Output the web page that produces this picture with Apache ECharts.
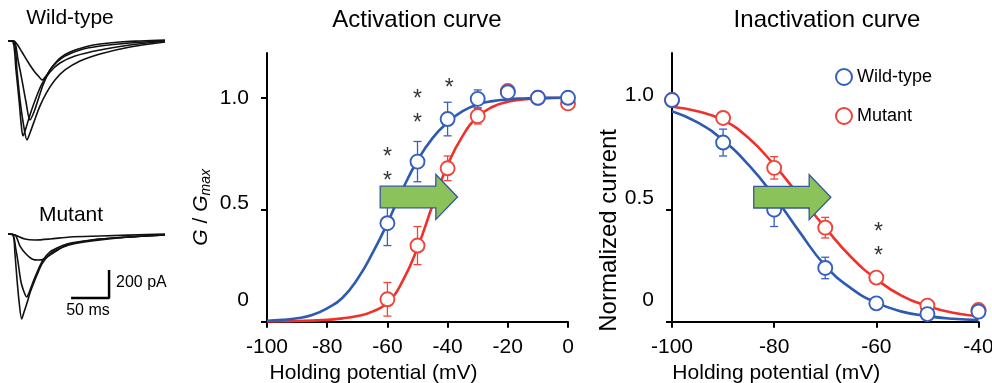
<!DOCTYPE html>
<html>
<head>
<meta charset="utf-8">
<script src="https://cdn.jsdelivr.net/npm/echarts@6.0.0/dist/echarts.min.js"></script>
<style>
  html, body { margin: 0; background: #fff; }
  #chart { width: 992px; height: 383px; }
</style>
</head>
<body>
<div id="chart"></div>
<script>
// ---- data ----
// activation: measured points (mV, G/Gmax) and s.e.m.
const actX = [-60, -50, -40, -30, -20, -10, 0]
const actWt = [0.44, 0.715, 0.905, 0.995, 1.025, 1.0, 1.0]
const actWtErr = [0.1, 0.09, 0.075, 0.04, 0, 0, 0]
const actMut = [0.10, 0.34, 0.685, 0.918, 1.03, 1.0, 0.975]
const actMutErr = [0.075, 0.085, 0.055, 0.035, 0, 0, 0]
// activation: fitted curves, read every 5 mV
const actFitX = [-100, -95, -90, -85, -80, -75, -70, -65, -60, -55, -50, -45, -40, -35, -30, -25, -20, -15, -10, -5, 0]
const actWtFit = [0.004, 0.008, 0.015, 0.03, 0.06, 0.106, 0.19, 0.305, 0.44, 0.59, 0.72, 0.82, 0.89, 0.94, 0.97, 0.985, 0.993, 0.997, 0.999, 1.0, 1.0]
const actMutFit = [0.001, 0.002, 0.003, 0.005, 0.008, 0.015, 0.025, 0.045, 0.085, 0.18, 0.33, 0.52, 0.70, 0.83, 0.915, 0.96, 0.982, 0.992, 0.997, 0.999, 1.0]
// inactivation
const inaX = [-100, -90, -80, -70, -60, -50, -40]
const inaWt = [0.99, 0.80, 0.50, 0.24, 0.082, 0.034, 0.045]
const inaWtErr = [0, 0.06, 0.075, 0.048, 0, 0, 0]
const inaMut = [0.99, 0.91, 0.687, 0.42, 0.197, 0.072, 0.052]
const inaMutErr = [0, 0, 0.05, 0.046, 0, 0, 0]
const inaFitX = [-100, -95, -90, -85, -80, -75, -70, -65, -60, -55, -50, -45, -40]
const inaWtFit = [0.94, 0.89, 0.81, 0.70, 0.56, 0.40, 0.25, 0.15, 0.085, 0.045, 0.025, 0.013, 0.007]
const inaMutFit = [0.96, 0.94, 0.90, 0.82, 0.70, 0.56, 0.42, 0.29, 0.19, 0.115, 0.07, 0.04, 0.025]
// significance marks (mV, height)
const actStars = [[-60, 0.754], [-60, 0.649], [-50, 1.015], [-50, 0.907], [-39.5, 1.064]]
const inaStars = [[-59.6, 0.418], [-59.6, 0.311]]
// shift arrows (mV from, mV to, height)
const actArrow = [-62.4, -36.7, 0.557]
const inaArrow = [-84.0, -68.9, 0.556]
// y tick labels
const ratioTicks = [0, 0.5, 1]
const ratioLabels = ['0', '0.5', '1.0']

// current traces (ms, pA)
const wtTraces = [
  [[0, -7], [7.9, -7], [11.8, -29], [18.4, -86], [26.3, -157], [34.2, -221], [42.1, -271], [44.7, -286], [50, -257], [57.9, -193], [68.4, -129], [81.6, -86], [101.3, -50], [121.1, -29], [147.4, -14], [173.7, -7], [206.6, 0]],
  [[0, -7], [7.9, -7], [13.2, -143], [18.4, -286], [23.7, -443], [28.9, -571], [34.2, -514], [39.5, -428], [46.1, -321], [55.3, -214], [64.5, -157], [75, -114], [94.8, -71], [121.1, -43], [160.6, -21], [206.6, -7]],
  [[0, -7], [6.6, -14], [10.5, -214], [14.5, -428], [17.1, -586], [19.7, -685], [23.7, -628], [28.9, -535], [36.8, -414], [44.7, -314], [55.3, -228], [68.4, -164], [88.2, -114], [121.1, -71], [160.6, -36], [206.6, -7]],
  [[0, -7], [7.9, -14], [11.8, -214], [15.8, -428], [21.1, -628], [25, -714], [28.9, -664], [34.2, -585], [42.1, -471], [51.3, -371], [61.8, -286], [75, -214], [94.8, -150], [121.1, -100], [160.6, -50], [206.6, -14]]
]
const mutTraces = [
  [[0, 0], [9.2, -7], [22.4, -36], [35.5, -43], [55.3, -36], [81.6, -21], [121.1, -14], [206.6, 0]],
  [[0, 0], [9.2, -7], [15.8, -86], [23.7, -143], [31.6, -178], [39.5, -186], [47.4, -178], [55.3, -150], [65.8, -114], [77.6, -78], [94.8, -57], [121.1, -36], [160.6, -21], [206.6, -7]],
  [[0, 0], [6.6, -7], [10.5, -114], [13.2, -200], [17.1, -343], [21.1, -414], [24.6, -450], [27.6, -421], [32.9, -343], [39.5, -257], [46.1, -186], [55.3, -128], [64.5, -100], [77.6, -71], [90.8, -57], [121.1, -36], [160.6, -21], [206.6, -7]],
  [[0, 0], [6.6, -7], [9.2, -143], [11.8, -321], [14.5, -478], [18, -607], [21.1, -557], [25, -493], [28.9, -421], [32.9, -364], [38.2, -293], [44.7, -214], [52.6, -157], [60.5, -121], [72.4, -93], [85.5, -71], [121.1, -43], [160.6, -21], [206.6, -7]]
]
const scaleBar = [[83, -457], [133, -457], [133, -257]]

const FONT = 'Liberation Sans, Arial, Helvetica, sans-serif'
const BLUE = '#2D5BB0'
const BLUE_PT = '#3560C0'
const RED = '#F0302A'
const RED_PT = '#F0443A'

const chart = echarts.init(document.getElementById('chart'))

const potentialAxis = (gridIndex, max, shift) => ({
  type: 'value', gridIndex, min: -100, max, interval: 20,
  name: 'Holding potential (mV)', nameLocation: 'middle', nameGap: 35,
  nameTextStyle: { fontSize: 21, color: '#000', fontFamily: FONT, padding: [0, shift * 2, 0, 0] },
  axisLine: { onZero: false, lineStyle: { color: '#000', width: 2 } },
  axisTick: { length: 6, lineStyle: { color: '#000', width: 2 } },
  axisLabel: { fontSize: 21, color: '#000', fontFamily: FONT, margin: 15 },
  splitLine: { show: false }
})

// the original figure has its y labels nudged upwards; lift = px per label
const ratioAxis = (gridIndex, name, nameGap, nameStyle, lift) => {
  const rich = {}
  ratioTicks.forEach((t, i) => {
    rich['l' + i] = { fontSize: 21, color: '#000', fontFamily: FONT, padding: [0, 0, lift[i] * 2, 0] }
  })
  return {
    type: 'value', gridIndex, min: 0, max: 1.2,
    name, nameLocation: 'middle', nameGap, nameRotate: 90, nameTextStyle: nameStyle,
    axisLine: { onZero: false, lineStyle: { color: '#000', width: 2 } },
    axisTick: { length: 6, customValues: ratioTicks, lineStyle: { color: '#000', width: 2 } },
    axisLabel: {
      margin: 18, customValues: ratioTicks, rich,
      formatter: (v) => {
        const i = ratioTicks.indexOf(v)
        return i < 0 ? '' : '{l' + i + '|' + ratioLabels[i] + '}'
      }
    },
    splitLine: { show: false }
  }
}

const hiddenAxis = (gridIndex, min, max) => ({ type: 'value', gridIndex, min, max, show: false })

const fitLine = (name, xs, ys, color, ax) => ({
  name, type: 'line', xAxisIndex: ax, yAxisIndex: ax, z: 2,
  data: xs.map((x, i) => [x, ys[i]]),
  smooth: true, showSymbol: false, silent: true,
  lineStyle: { color, width: 2.6 }
})

const errBars = (xs, ys, es, color, ax) => ({
  type: 'custom', xAxisIndex: ax, yAxisIndex: ax, z: 3, silent: true,
  data: xs.map((x, i) => [x, ys[i], es[i]]),
  renderItem: (params, api) => {
    const e = api.value(2)
    if (!e) return null
    const top = api.coord([api.value(0), api.value(1) + e])
    const bot = api.coord([api.value(0), api.value(1) - e])
    const w = 4
    const st = { stroke: color, lineWidth: 1.3 }
    return {
      type: 'group',
      children: [
        { type: 'line', shape: { x1: top[0], y1: top[1], x2: bot[0], y2: bot[1] }, style: st },
        { type: 'line', shape: { x1: top[0] - w, y1: top[1], x2: top[0] + w, y2: top[1] }, style: st },
        { type: 'line', shape: { x1: bot[0] - w, y1: bot[1], x2: bot[0] + w, y2: bot[1] }, style: st }
      ]
    }
  }
})

const points = (name, xs, ys, color, ax, z) => ({
  name, type: 'scatter', xAxisIndex: ax, yAxisIndex: ax, z,
  data: xs.map((x, i) => [x, ys[i]]),
  symbol: 'circle', symbolSize: 14, silent: true,
  itemStyle: { color: '#fff', borderColor: color, borderWidth: 1.9, opacity: 1 }
})

const stars = (data, ax) => ({
  type: 'scatter', xAxisIndex: ax, yAxisIndex: ax, z: 6, silent: true,
  data, symbolSize: 2, itemStyle: { color: 'rgba(0,0,0,0)' },
  label: { show: true, position: 'inside', formatter: '*', fontSize: 23, color: '#000', fontFamily: FONT, offset: [0, 5] }
})

const trace = (data, ax, width) => ({
  type: 'line', xAxisIndex: ax, yAxisIndex: ax, data, z: 2,
  smooth: 0.3, showSymbol: false, silent: true,
  lineStyle: { color: '#111', width }
})

const series = [
  fitLine('Mutant fit', actFitX, actMutFit, RED, 0),
  fitLine('Wild-type fit', actFitX, actWtFit, BLUE, 0),
  errBars(actX, actMut, actMutErr, RED_PT, 0),
  errBars(actX, actWt, actWtErr, BLUE_PT, 0),
  points('Mutant', actX, actMut, RED_PT, 0, 4),
  points('Wild-type', actX, actWt, BLUE_PT, 0, 5),
  stars(actStars, 0),
  fitLine('Mutant fit', inaFitX, inaMutFit, RED, 1),
  fitLine('Wild-type fit', inaFitX, inaWtFit, BLUE, 1),
  errBars(inaX, inaMut, inaMutErr, RED_PT, 1),
  errBars(inaX, inaWt, inaWtErr, BLUE_PT, 1),
  points('Mutant', inaX, inaMut, RED_PT, 1, 4),
  points('Wild-type', inaX, inaWt, BLUE_PT, 1, 5),
  stars(inaStars, 1)
]
wtTraces.forEach((t) => series.push(trace(t, 2, 1.6)))
mutTraces.forEach((t) => series.push(trace(t, 3, 1.6)))
series.push({
  type: 'line', xAxisIndex: 3, yAxisIndex: 3, data: scaleBar, z: 3,
  showSymbol: false, silent: true, lineStyle: { color: '#000', width: 2.5 }
})

const option = {
  backgroundColor: '#fff',
  animation: false,
  textStyle: { fontFamily: FONT },
  title: [
    { text: 'Activation curve', left: 412, top: 3, textAlign: 'center', textStyle: { fontSize: 24, fontWeight: 'normal', color: '#000', fontFamily: FONT } },
    { text: 'Inactivation curve', left: 822, top: 3, textAlign: 'center', textStyle: { fontSize: 24, fontWeight: 'normal', color: '#000', fontFamily: FONT } }
  ],
  legend: {
    data: ['Wild-type', 'Mutant'], orient: 'vertical', left: 830, top: 63,
    itemWidth: 16, itemHeight: 16, itemGap: 21, selectedMode: false,
    textStyle: { fontSize: 18, color: '#000', fontFamily: FONT }
  },
  grid: [
    { left: 267, top: 53, width: 301, height: 268.7, outerBoundsMode: 'none' },
    { left: 672, top: 53, width: 306.5, height: 268.7, outerBoundsMode: 'none' },
    { left: 8, top: 29.5, width: 157, height: 115.5, outerBoundsMode: 'none' },
    { left: 8, top: 223.5, width: 157, height: 115.5, outerBoundsMode: 'none' }
  ],
  xAxis: [
    potentialAxis(0, 0, 44),
    potentialAxis(1, -40, 49),
    hiddenAxis(2, 0, 206.6),
    hiddenAxis(3, 0, 206.6)
  ],
  yAxis: [
    ratioAxis(0, '{i|G} / {i|G}{s|max}', 54, {
      fontSize: 21, color: '#000', fontFamily: FONT, padding: [0, 40, 0, 0],
      rich: {
        i: { fontSize: 21, fontStyle: 'italic', color: '#000', fontFamily: FONT, lineHeight: 24 },
        s: { fontSize: 14, fontStyle: 'italic', color: '#000', fontFamily: FONT, lineHeight: 12, verticalAlign: 'bottom' }
      }
    }, [21, 7, 0]),
    ratioAxis(1, 'Normalized current', 43, { fontSize: 24, color: '#000', fontFamily: FONT, padding: [0, 86, 0, 0] }, [21, 12, 3]),
    hiddenAxis(2, -750, 75),
    hiddenAxis(3, -750, 75)
  ],
  series
}

chart.setOption(option)

// arrows and panel text, placed through the chart's own coordinate systems
const arrowShape = (gridIndex, spec) => {
  const a = chart.convertToPixel({ gridIndex }, [spec[0], spec[2]])
  const b = chart.convertToPixel({ gridIndex }, [spec[1], spec[2]])
  const y = a[1]
  const bh = 10.8, hh = 22.5, hl = 21.7
  return {
    type: 'polygon', z: 100, silent: true,
    shape: { points: [[a[0], y - bh], [b[0] - hl, y - bh], [b[0] - hl, y - hh], [b[0], y], [b[0] - hl, y + hh], [b[0] - hl, y + bh], [a[0], y + bh]] },
    style: { fill: '#8CC25A', stroke: '#34589C', lineWidth: 1.3 }
  }
}
const label = (text, x, y, size, align) => ({
  type: 'text', x, y, z: 100, silent: true,
  style: { text, fontSize: size, fill: '#000', fontFamily: FONT, align: align || 'center', verticalAlign: 'middle' }
})

chart.setOption({
  graphic: [
    arrowShape(0, actArrow),
    arrowShape(1, inaArrow),
    label('Wild-type', 70, 18, 21),
    label('Mutant', 71, 215, 21),
    label('200 pA', 116, 283, 16, 'left'),
    label('50 ms', 88, 311, 16)
  ]
})
</script>
</body>
</html>
